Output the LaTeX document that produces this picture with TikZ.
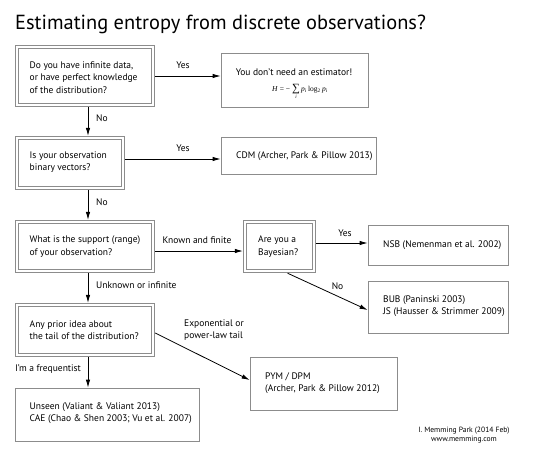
\documentclass[tikz,border=0pt]{standalone}
\usepackage{fontspec}
\setmainfont{PT Sans}
\newfontfamily\fserif{Liberation Serif}
\usetikzlibrary{calc,arrows.meta}
\definecolor{boxgray}{gray}{0.55}
\newcommand{\diagfont}{\fontsize{9.5}{12.4}\selectfont}
\begin{document}
\begin{tikzpicture}[x=1pt,y=-1pt,
  box/.style={draw=boxgray, line width=0.8pt, inner sep=0pt, outer sep=0.4pt},
  dbox/.style={draw=boxgray, line width=0.8pt, double=white, double distance=2.8pt, inner sep=0pt, outer sep=2.2pt},
  txt/.style={inner sep=0pt, align=left, font=\diagfont, anchor=west},
  lbl/.style={inner sep=0pt, font=\diagfont},
  arr/.style={-{Latex[length=8pt,width=4.5pt]}, line width=0.8pt, black}]
\useasboundingbox (0,0) rectangle (540,456);
\coordinate (cx) at (88,0);

% title
\node[inner sep=0pt, anchor=base west, font=\fontsize{20.4}{24}\selectfont] (title) at (15,29.5) {Estimating entropy from discrete observations?};

% boxes
\node[dbox, minimum width=136pt, minimum height=58pt] (b1) at (85,76) {};
\node[box, minimum width=147pt, minimum height=54pt] (y1) at (294.5,80) {};
\node[dbox, minimum width=106pt, minimum height=50pt] (b2) at (70,163) {};
\node[box, minimum width=155pt, minimum height=37pt] (cdm) at (298.5,155.5) {};
\node[dbox, minimum width=136pt, minimum height=49pt] (b3) at (85,246.5) {};
\node[dbox, minimum width=69pt, minimum height=49pt] (b4) at (279.5,246.5) {};
\node[box, minimum width=140pt, minimum height=40pt] (nsb) at (438,245) {};
\node[box, minimum width=140pt, minimum height=52pt] (bub) at (438,307) {};
\node[dbox, minimum width=136pt, minimum height=50pt] (b5) at (85,330) {};
\node[box, minimum width=147pt, minimum height=53pt] (pym) at (323.5,383.5) {};
\node[box, minimum width=184pt, minimum height=53pt] (uns) at (107,414.5) {};

% texts
\node[txt] (t1) at (29.5,77.5) {Do you have infinite data,\\or have perfect knowledge\\of the distribution?};
\node[lbl] (ty1) at (294,72) {You don’t need an estimator!};
\node[inner sep=0pt, anchor=base, font=\fserif\fontsize{7.5}{8}\selectfont] (fy1) at (300,91)
  {\textit{H} = − \raisebox{-7.2pt}{\shortstack{{\fontsize{11}{11}\selectfont ∑}\\[-2pt]{\fontsize{5}{5}\selectfont\itshape i}}}\,\textit{p}\textsubscript{\textit{i}}\,log\textsubscript{2}\,\textit{p}\textsubscript{\textit{i}}};
\node[txt] (t2) at (29.5,162) {Is your observation\\binary vectors?};
\node[txt] (tcdm) at (236,156) {CDM (Archer, Park \& Pillow 2013)};
\node[txt] (t3) at (29.5,246.5) {What is the support (range)\\of your observation?};
\node[txt] (t4) at (258,246.5) {Are you a\\Bayesian?};
\node[txt] (tnsb) at (383,245) {NSB (Nemenman et al. 2002)};
\node[txt] (tbub) at (383,306) {BUB (Paninski 2003)\\JS (Hausser \& Strimmer 2009)};
\node[txt] (t5) at (29.5,330) {Any prior idea about\\the tail of the distribution?};
\node[txt] (tpym) at (265,383) {PYM / DPM\\(Archer, Park \& Pillow 2012)};
\node[txt] (tuns) at (29.5,413) {Unseen (Valiant \& Valiant 2013)\\CAE (Chao \& Shen 2003; Vu et al. 2007)};
\node[inner sep=0pt, align=center, font=\fontsize{7.6}{9}\selectfont] (credit) at (464,435.5) {I. Memming Park (2014 Feb)\\www.memming.com};

% connectors
\draw[arr] (b1.east) -- (b1.east -| y1.west);
\node[lbl] (l1) at (183,65) {Yes};

\draw[arr] (b1.south -| cx) -- (b2.north -| cx);
\node[lbl, anchor=west] (l2) at (96,118) {No};

\coordinate (a3) at ($(b2.east)+(0,-4)$);
\draw[arr] (a3) -- (a3 -| cdm.west);
\node[lbl] (l3) at (183,148.5) {Yes};

\draw[arr] (b2.south -| cx) -- (b3.north -| cx);
\node[lbl, anchor=west] (l4) at (96,202) {No};

\coordinate (a5) at ($(b3.east)+(0,4.5)$);
\draw[arr] (a5) -- (a5 -| b4.west);
\node[lbl] (l5) at (197,240) {Known and finite};

\coordinate (a6) at ($(b4.east)+(0,-3.5)$);
\draw[arr] (a6) -- (a6 -| nsb.west);
\node[lbl] (l6) at (345,233) {Yes};

\coordinate (a7) at ($(b4.south west)!0.61!(b4.south east)$);
\draw[arr] (a7) -- ($(bub.west)+(0,3)$);
\node[lbl] (l7) at (337.5,286) {No};

\draw[arr] (b3.south -| cx) -- (b5.north -| cx);
\node[lbl, anchor=west] (l8) at (96,285.5) {Unknown or infinite};

\coordinate (a9) at ($(b5.east)+(0,3)$);
\draw[arr] (a9) -- ($(pym.west)+(0,-3.5)$);
\node[txt] (l9) at (184,330) {Exponential or\\power-law tail};

\draw[arr] (b5.south -| cx) -- (uns.north -| cx);
\node[lbl, anchor=west] (l10) at (15,369) {I’m a frequentist};
\end{tikzpicture}
\end{document}
